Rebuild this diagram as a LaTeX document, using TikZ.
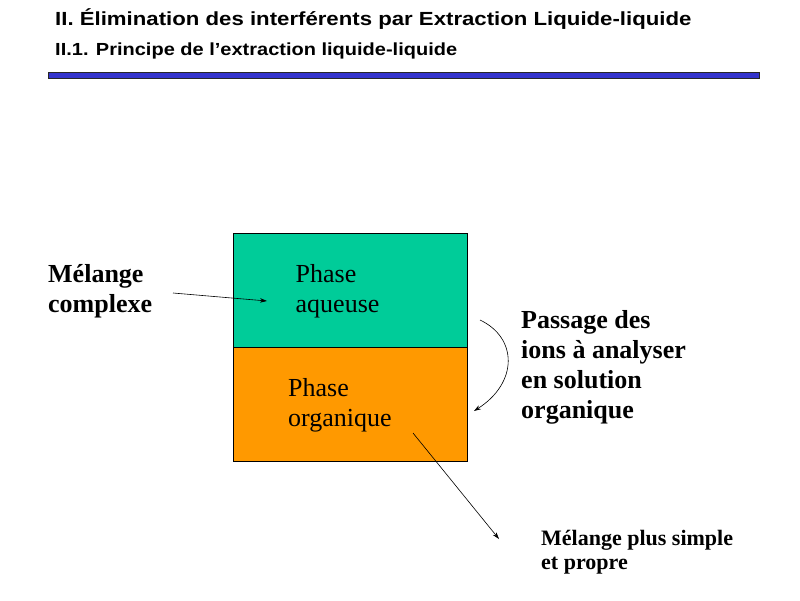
\documentclass[tikz,border=0pt]{standalone}
\usepackage{fontspec}
\usepackage{graphicx}
\setmainfont{Liberation Serif}
\newfontfamily\slidesans{Liberation Sans}
\usetikzlibrary{arrows.meta}
\definecolor{aqgreen}{HTML}{00CC99}
\definecolor{orgorange}{HTML}{FF9900}
\definecolor{barblue}{HTML}{3333CC}

\begin{document}
\begin{tikzpicture}[x=1pt,y=-1pt,>={Stealth[length=7pt,width=4.5pt]}]
\tikzstyle{every node}=[inner sep=0pt,anchor=base west,align=left];
\tikzstyle{textlabel}=[font=\bfseries\fontsize{26}{30}\selectfont];
\tikzstyle{phasetext}=[font=\fontsize{26}{30}\selectfont];
\tikzstyle{phasebox}=[draw,line width=0.8pt,anchor=north west,minimum width=234pt,minimum height=114pt];
\tikzstyle{link}=[->,line width=0.6pt];
\useasboundingbox (0,0) rectangle (800,600);
% header
    \node (title) at (55,25.5) [font=\slidesans\bfseries\fontsize{19}{22}\selectfont]
        {\scalebox{1.168}[1]{II. Élimination des interférents par Extraction Liquide-liquide}};
    \node (subtitle) at (55,55) [font=\slidesans\bfseries\fontsize{17.5}{20}\selectfont]
        {\scalebox{1.143}[1]{II.1. Principe de l’extraction liquide-liquide}};
    \node (bar) at (48,72) [draw=black!85,fill=barblue,line width=0.8pt,anchor=north west,
        minimum width=711pt,minimum height=6pt] {};
% phases (base = last line)
    \node (aq) at (233,233) [phasebox,fill=aqgreen] {};
    \node (org) at (233,347) [phasebox,fill=orgorange] {};
    \node (aqtext) at (295.5,312.5) [phasetext] {Phase\\aqueuse};
    \node (orgtext) at (288,426.5) [phasetext] {Phase\\organique};
% labels
    \node (mix) at (48,312) [textlabel] {Mélange\\complexe};
    \node (pass) at (521,418) [textlabel] {Passage des\\ions à analyser\\en solution\\organique};
    \node (clean) at (541,569) [font=\bfseries\fontsize{22}{24}\selectfont] {Mélange plus simple\\et propre};
% arrows
    \coordinate (inA) at (173,293);
    \coordinate (inB) at (267,301);
    \coordinate (outA) at (480,320);
    \coordinate (outB) at (474,411);
    \coordinate (exA) at (413,433);
    \coordinate (exB) at (499,539);
    \draw[link] (inA) -- (inB);
    \draw[link] (outA) .. controls (518,338) and (518,383) .. (outB);
    \draw[link] (exA) -- (exB);
\end{tikzpicture}
\end{document}
